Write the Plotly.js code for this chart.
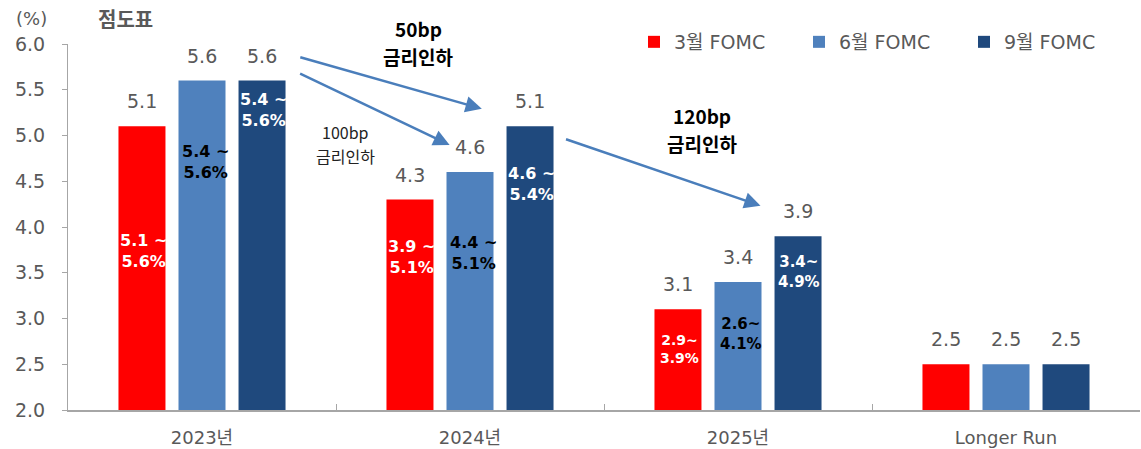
<!DOCTYPE html>
<html>
<head>
<meta charset="utf-8">
<script src="https://cdn.plot.ly/plotly-3.0.1.min.js"></script>
<style>html,body{margin:0;padding:0;background:#fff;}#chart{width:1141px;height:449px;}</style>
</head>
<body>
<div id="chart"></div>
<script>
const categories = ["2023년", "2024년", "2025년", "Longer Run"];
const seriesNames = ["3월 FOMC", "6월 FOMC", "9월 FOMC"];
const march = [5.1, 4.3, 3.1, 2.5];
const june = [5.6, 4.6, 3.4, 2.5];
const sept = [5.6, 5.1, 3.9, 2.5];
const marchRange = ["5.1 ~<br>5.6%", "3.9 ~<br>5.1%", "2.9~<br>3.9%", ""];
const juneRange = ["5.4 ~<br>5.6%", "4.4 ~<br>5.1%", "2.6~<br>4.1%", ""];
const septRange = ["5.4 ~<br>5.6%", "4.6 ~<br>5.4%", "3.4~<br>4.9%", ""];
const yTicks = [2.0, 2.5, 3.0, 3.5, 4.0, 4.5, 5.0, 5.5, 6.0];

const colors = ["#ff0000", "#4f81bd", "#1f497d"];
const FONT = "'DejaVu Sans', 'Noto Sans CJK KR', sans-serif";
const KFONT = "'Noto Sans CJK KR', sans-serif";
const GRAY = "#595959";

const allSeries = [march, june, sept];
const allRanges = [marchRange, juneRange, septRange];
const traces = allSeries.map((vals, i) => ({
  type: "bar", name: seriesNames[i], x: categories, y: vals,
  marker: {color: colors[i]}, hoverinfo: "skip"
}));

const shifts = [-60, 0, 60];
const annotations = [];
// value labels above bars
allSeries.forEach((vals, i) => {
  vals.forEach((v, j) => {
    annotations.push({
      xref: "x", yref: "y", x: categories[j], y: v, xshift: shifts[i], yshift: 12,
      yanchor: "bottom", showarrow: false, text: v.toFixed(1),
      font: {family: FONT, size: 19, color: GRAY}
    });
  });
});
// range labels inside bars (vertical placement as in reference)
const rangeY = [[3.74, 3.67, 2.67], [4.71, 3.72, 2.83], [5.28, 4.47, 3.51]];
const rangeColor = ["#ffffff", "#000000", "#ffffff"];
allRanges.forEach((arr, i) => {
  arr.forEach((t, j) => {
    if (!t) return;
    let size = 16;
    if (j === 2) size = (i === 0) ? 14 : 15;
    annotations.push({
      xref: "x", yref: "y", x: categories[j], y: rangeY[i][j], xshift: shifts[i] + (i === 1 ? 3 : 1),
      showarrow: false, text: "<b>" + t + "</b>", align: "center",
      font: {family: FONT, size: size, color: rangeColor[i]}
    });
  });
});
function note(x, y, txt, size, color, bold) {
  annotations.push({xref: "paper", yref: "paper", x: x, y: y, xanchor: "center", yanchor: "middle",
    showarrow: false, text: bold ? "<b>" + txt + "</b>" : txt,
    font: {family: KFONT, size: size, color: color}});
}
// titles / notes
annotations.push(
  {xref: "paper", yref: "paper", x: -0.0177, y: 1.071, xanchor: "right", yanchor: "middle", showarrow: false,
   text: "(%)", font: {family: FONT, size: 18, color: GRAY}},
  {xref: "paper", yref: "paper", x: 0.026, y: 1.071, xanchor: "left", yanchor: "middle", showarrow: false,
   text: "<b>점도표</b>", font: {family: KFONT, size: 20, color: GRAY}}
);
note(0.3265, 1.043, "50bp", 19, "#000", true);
note(0.3265, 0.965, "금리인하", 19, "#000", true);
note(0.591, 0.806, "120bp", 19, "#000", true);
note(0.591, 0.728, "금리인하", 19, "#000", true);
note(0.259, 0.759, "100bp", 16, "#222", false);
note(0.259, 0.695, "금리인하", 16, "#222", false);
// arrows
annotations.push(
  {xref: "paper", yref: "paper", x: 0.386, y: 0.823, showarrow: true, arrowhead: 2, arrowsize: 1.3, arrowwidth: 2.5,
   arrowcolor: "#4a7ebb", ax: -183, ay: -52, text: ""},
  {xref: "paper", yref: "paper", x: 0.356, y: 0.724, showarrow: true, arrowhead: 2, arrowsize: 1.3, arrowwidth: 2.5,
   arrowcolor: "#4a7ebb", ax: -151, ay: -72, text: ""},
  {xref: "paper", yref: "paper", x: 0.646, y: 0.558, showarrow: true, arrowhead: 2, arrowsize: 1.3, arrowwidth: 2.5,
   arrowcolor: "#4a7ebb", ax: -196, ay: -67, text: ""}
);

const layout = {
  width: 1141, height: 449,
  margin: {l: 68, r: 1, t: 44, b: 39, autoexpand: false},
  paper_bgcolor: "#fff", plot_bgcolor: "#fff",
  barmode: "group", bargap: 0.328, bargroupgap: 0.217,
  font: {family: FONT, color: GRAY},
  showlegend: true,
  legend: {orientation: "h", x: 0.528, y: 1.0055, xanchor: "left", yanchor: "middle",
    font: {family: FONT, size: 19, color: GRAY}, entrywidth: 120, itemwidth: 30,
    bgcolor: "rgba(0,0,0,0)", traceorder: "normal"},
  xaxis: {type: "category", showline: true, linecolor: "#a6a6a6", linewidth: 1.5,
    ticks: "inside", ticklen: 6, tickcolor: "#a6a6a6", tickson: "boundaries",
    showgrid: false, zeroline: false, tickfont: {family: FONT, size: 18, color: GRAY},
    ticklabelstandoff: 11},
  yaxis: {range: [2, 6], tickvals: yTicks, ticktext: yTicks.map(v => v.toFixed(1)),
    showline: true, linecolor: "#a6a6a6", linewidth: 1, ticks: "outside", ticklen: 5, tickcolor: "#a6a6a6",
    showgrid: false, zeroline: false, tickfont: {family: FONT, size: 19, color: GRAY},
    ticklabelstandoff: 13},
  annotations: annotations
};

Plotly.newPlot("chart", traces, layout, {staticPlot: true, displayModeBar: false});
</script>
</body>
</html>
